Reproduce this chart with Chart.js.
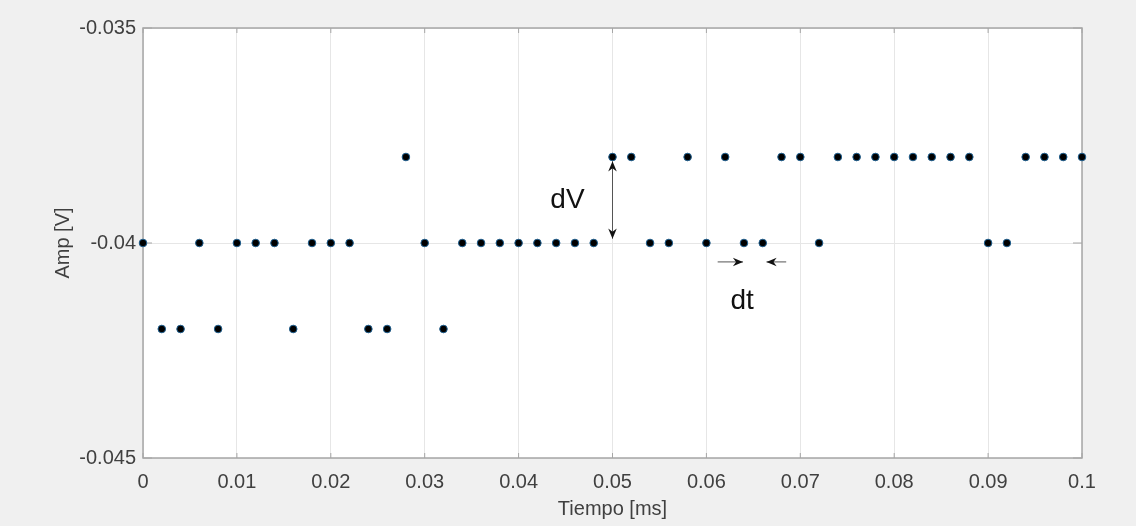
<!DOCTYPE html>
<html>
<head>
<meta charset="utf-8">
<script src="https://cdn.jsdelivr.net/npm/chart.js@4/dist/chart.umd.min.js"></script>
<style>
  html, body { margin: 0; padding: 0; background: #f0f0f0; }
  #wrap { width: 1136px; height: 526px; }
</style>
</head>
<body>
<div id="wrap"><canvas id="myChart" width="1136" height="526"></canvas></div>
<script>
// datos
var tiempo = [0, 0.002, 0.004, 0.006, 0.008, 0.010, 0.012, 0.014, 0.016, 0.018,
              0.020, 0.022, 0.024, 0.026, 0.028, 0.030, 0.032, 0.034, 0.036, 0.038,
              0.040, 0.042, 0.044, 0.046, 0.048, 0.050, 0.052, 0.054, 0.056, 0.058,
              0.060, 0.062, 0.064, 0.066, 0.068, 0.070, 0.072, 0.074, 0.076, 0.078,
              0.080, 0.082, 0.084, 0.086, 0.088, 0.090, 0.092, 0.094, 0.096, 0.098, 0.100];
var amp = [-0.040, -0.042, -0.042, -0.040, -0.042, -0.040, -0.040, -0.040, -0.042, -0.040,
           -0.040, -0.040, -0.042, -0.042, -0.038, -0.040, -0.042, -0.040, -0.040, -0.040,
           -0.040, -0.040, -0.040, -0.040, -0.040, -0.038, -0.038, -0.040, -0.040, -0.038,
           -0.040, -0.038, -0.040, -0.040, -0.038, -0.038, -0.040, -0.038, -0.038, -0.038,
           -0.038, -0.038, -0.038, -0.038, -0.038, -0.040, -0.040, -0.038, -0.038, -0.038, -0.038];
var xTicks = ['0', '0.01', '0.02', '0.03', '0.04', '0.05', '0.06', '0.07', '0.08', '0.09', '0.1'];
var yTicks = ['-0.045', '-0.04', '-0.035'];

// anotaciones (en unidades de datos)
var dvFlecha = [0.050, -0.0381, -0.0399];   // x, y1, y2
var dvTexto = [0.0452, -0.0390];
var dtFlechaDer = [0.0612, 0.0639, -0.04044];
var dtFlechaIzq = [0.0685, 0.0664, -0.04044];
var dtTexto = [0.0638, -0.04136];

var puntos = tiempo.map(function (t, i) { return { x: t, y: amp[i] }; });

var fuente = '"Liberation Sans", Arial, sans-serif';

function flecha(ctx, x1, y1, x2, y2) {
    var ang = Math.atan2(y2 - y1, x2 - x1);
    ctx.beginPath();
    ctx.moveTo(x1, y1);
    ctx.lineTo(x2, y2);
    ctx.stroke();
    ctx.beginPath();
    ctx.moveTo(x2, y2);
    ctx.lineTo(x2 - 11 * Math.cos(ang - 0.4), y2 - 11 * Math.sin(ang - 0.4));
    ctx.lineTo(x2 - 7 * Math.cos(ang), y2 - 7 * Math.sin(ang));
    ctx.lineTo(x2 - 11 * Math.cos(ang + 0.4), y2 - 11 * Math.sin(ang + 0.4));
    ctx.closePath();
    ctx.fill();
}

var fondo = {
    id: 'fondo',
    beforeDraw: function (chart) {
        var ctx = chart.ctx, a = chart.chartArea;
        ctx.save();
        ctx.fillStyle = '#f0f0f0';
        ctx.fillRect(0, 0, chart.width, chart.height);
        ctx.fillStyle = '#ffffff';
        ctx.fillRect(a.left, a.top, a.right - a.left, a.bottom - a.top);
        ctx.restore();
    },
    beforeDatasetsDraw: function (chart) {
        var ctx = chart.ctx, a = chart.chartArea;
        var sx = chart.scales.x, sy = chart.scales.y;
        ctx.save();
        // marco
        ctx.strokeStyle = '#a6a6a6';
        ctx.lineWidth = 1.5;
        ctx.strokeRect(a.left, a.top, a.right - a.left, a.bottom - a.top);
        // marcas de los ejes hacia dentro
        ctx.lineWidth = 1;
        sx.ticks.forEach(function (t) {
            var px = sx.getPixelForValue(t.value);
            ctx.beginPath(); ctx.moveTo(px, a.bottom); ctx.lineTo(px, a.bottom - 5); ctx.stroke();
            ctx.beginPath(); ctx.moveTo(px, a.top); ctx.lineTo(px, a.top + 5); ctx.stroke();
        });
        sy.ticks.forEach(function (t) {
            var py = sy.getPixelForValue(t.value);
            ctx.beginPath(); ctx.moveTo(a.left, py); ctx.lineTo(a.left + 9, py); ctx.stroke();
            ctx.beginPath(); ctx.moveTo(a.right, py); ctx.lineTo(a.right - 9, py); ctx.stroke();
        });
        ctx.restore();
    },
    afterDatasetsDraw: function (chart) {
        var ctx = chart.ctx;
        var sx = chart.scales.x, sy = chart.scales.y;
        ctx.save();
        // flechas
        ctx.strokeStyle = '#555555';
        ctx.fillStyle = '#111111';
        ctx.lineWidth = 1;
        var xv = sx.getPixelForValue(dvFlecha[0]);
        var y1 = sy.getPixelForValue(dvFlecha[1]), y2 = sy.getPixelForValue(dvFlecha[2]);
        flecha(ctx, xv, (y1 + y2) / 2, xv, y1);
        flecha(ctx, xv, (y1 + y2) / 2, xv, y2);
        var yt = sy.getPixelForValue(dtFlechaDer[2]);
        flecha(ctx, sx.getPixelForValue(dtFlechaDer[0]), yt, sx.getPixelForValue(dtFlechaDer[1]), yt);
        flecha(ctx, sx.getPixelForValue(dtFlechaIzq[0]), yt, sx.getPixelForValue(dtFlechaIzq[1]), yt);
        // textos
        ctx.fillStyle = '#111111';
        ctx.font = '28px ' + fuente;
        ctx.textAlign = 'center';
        ctx.textBaseline = 'middle';
        ctx.fillText('dV', sx.getPixelForValue(dvTexto[0]), sy.getPixelForValue(dvTexto[1]));
        ctx.fillText('dt', sx.getPixelForValue(dtTexto[0]), sy.getPixelForValue(dtTexto[1]));
        ctx.restore();
    }
};

var ctx = document.getElementById('myChart').getContext('2d');
var myChart = new Chart(ctx, {
    type: 'scatter',
    data: {
        datasets: [{
            data: puntos,
            backgroundColor: '#000000',
            borderColor: '#1f5f8f',
            borderWidth: 1,
            pointRadius: 3.8,
            pointHoverRadius: 3.8,
            clip: false
        }]
    },
    options: {
        responsive: false,
        animation: false,
        layout: { padding: { left: 51, right: 54, top: 28, bottom: 0 } },
        plugins: { legend: { display: false }, tooltip: { enabled: false } },
        scales: {
            x: {
                type: 'linear',
                min: 0,
                max: 0.1,
                afterBuildTicks: function (ax) {
                    ax.ticks = xTicks.map(function (s) { return { value: parseFloat(s) }; });
                },
                afterFit: function (ax) { ax.height = 68; },
                border: { display: false },
                grid: { color: '#e6e6e6', drawTicks: false },
                ticks: {
                    padding: 12,
                    color: '#404040',
                    font: { family: fuente, size: 20 },
                    maxRotation: 0,
                    callback: function (v, i) { return xTicks[i]; }
                },
                title: {
                    display: true,
                    text: 'Tiempo [ms]',
                    color: '#404040',
                    font: { family: fuente, size: 20 },
                    padding: { top: 0, bottom: 5 }
                }
            },
            y: {
                type: 'linear',
                min: -0.045,
                max: -0.035,
                afterBuildTicks: function (ax) {
                    ax.ticks = yTicks.map(function (s) { return { value: parseFloat(s) }; });
                },
                afterFit: function (ax) { ax.width = 92; },
                border: { display: false },
                grid: { color: '#e6e6e6', drawTicks: false },
                ticks: {
                    padding: 7,
                    color: '#404040',
                    font: { family: fuente, size: 20 },
                    callback: function (v, i) { return yTicks[i]; }
                },
                title: {
                    display: true,
                    text: 'Amp [V]',
                    color: '#404040',
                    font: { family: fuente, size: 20 },
                    padding: { top: 0, bottom: 0 }
                }
            }
        }
    },
    plugins: [fondo]
});
</script>
</body>
</html>
